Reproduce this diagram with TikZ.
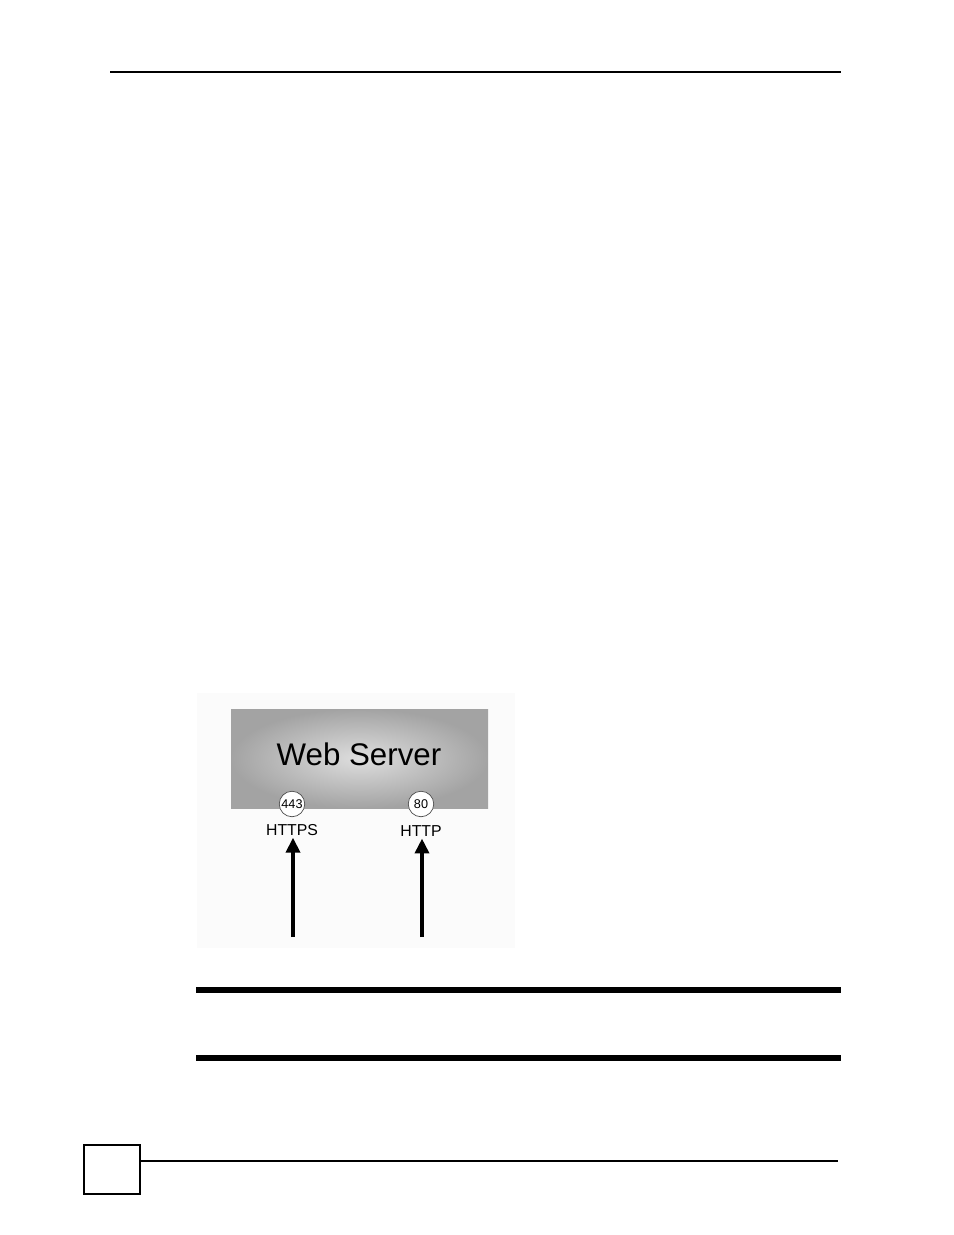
\documentclass[tikz,border=0pt]{standalone}
\usepackage{fontspec}
\setmainfont{Liberation Sans}
\usetikzlibrary{arrows.meta,positioning}
\newcommand{\pxu}{0.02cm}
\newcommand{\rulew}{0.85pt}
\newcommand{\barw}{2.9pt}

\begin{document}
\begin{tikzpicture}[x=\pxu, y=-\pxu]
        \tikzset{port/.style = {circle, draw=black!70, fill=white, line width=0.4pt, minimum size=14.5pt, inner sep=0pt, font=\fontsize{7.2}{8}\selectfont}}
        \tikzset{proto/.style = {font=\fontsize{9}{10}\selectfont, inner sep=1pt}}
        \tikzset{inflow/.style = {line width=2pt, -{Triangle[length=8.5pt, width=8pt]}}}
        \useasboundingbox (0,0) rectangle (954,1235);
        % page header
        \draw[line width=\rulew] (110,72) -- (841,72);
        % figure
        \fill[black!1.5] (197,693) rectangle (515,948);
        \shade[inner color=black!13, outer color=black!36] (231,709) rectangle (488,808);
        \node[font=\fontsize{17.8}{20}\selectfont] (server) at (359,754) {Web Server};
        \node[port] (p443) at (292,804) {443};
        \node[port] (p80) at (421,804) {80};
        \node[proto] (https) at (292,830) {HTTPS};
        \node[proto] (http) at (421,831) {HTTP};
        \coordinate (in1) at (293,937);
        \coordinate (in2) at (422,937);
        \draw[inflow] (in1) -- (https.south -| in1);
        \draw[inflow] (in2) -- (http.south -| in2);
        % note bars
        \draw[line width=\barw] (196,990) -- (841,990);
        \draw[line width=\barw] (196,1058) -- (841,1058);
        % page footer
        \draw[line width=1.2pt] (84,1145) rectangle (140,1194);
        \draw[line width=\rulew] (140,1161) -- (838,1161);
    \end{tikzpicture}
\end{document}
